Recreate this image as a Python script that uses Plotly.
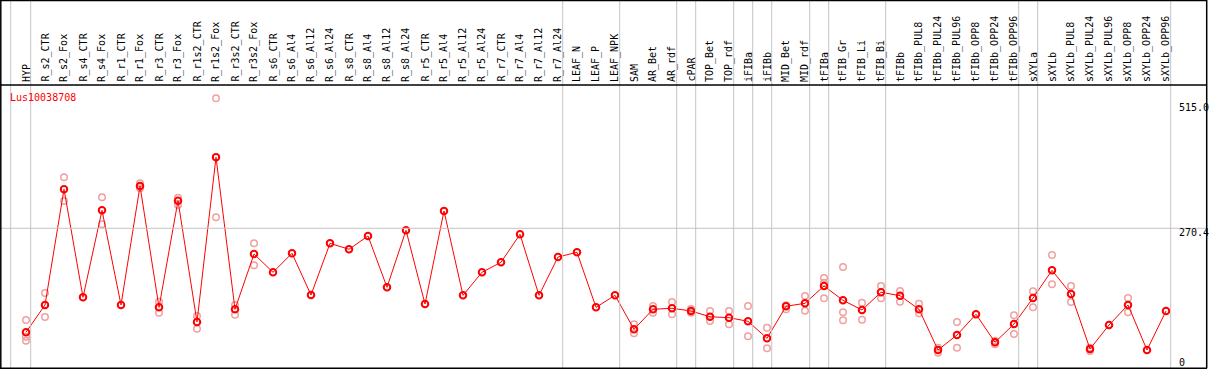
import plotly.graph_objects as go

categories = ["HYP", "R_s2_CTR", "R_s2_Fox", "R_s4_CTR", "R_s4_Fox", "R_r1_CTR", "R_r1_Fox",
              "R_r3_CTR", "R_r3_Fox", "R_r1s2_CTR", "R_r1s2_Fox", "R_r3s2_CTR", "R_r3s2_Fox",
              "R_s6_CTR", "R_s6_Al4", "R_s6_Al12", "R_s6_Al24", "R_s8_CTR", "R_s8_Al4", "R_s8_Al12",
              "R_s8_Al24", "R_r5_CTR", "R_r5_Al4", "R_r5_Al12", "R_r5_Al24", "R_r7_CTR", "R_r7_Al4",
              "R_r7_Al12", "R_r7_Al24", "LEAF_N", "LEAF_P", "LEAF_NPK", "SAM", "AR_Bet", "AR_rdf",
              "cPAR", "TOP_Bet", "TOP_rdf", "iFIBa", "iFIBb", "MID_Bet", "MID_rdf", "tFIBa",
              "tFIB_Gr", "tFIB_Li", "tFIB_Bi", "tFIBb", "tFIBb_PUL8", "tFIBb_PUL24", "tFIBb_PUL96",
              "tFIBb_OPP8", "tFIBb_OPP24", "tFIBb_OPP96", "sXYLa", "sXYLb", "sXYLb_PUL8",
              "sXYLb_PUL24", "sXYLb_PUL96", "sXYLb_OPP8", "sXYLb_OPP24", "sXYLb_OPP96"]

mean_values = [74.7, 126.1, 343.8, 140.5, 304.2, 126.1, 350.0, 121.7, 322.3, 94.1, 404.0,
               118.0, 222.0, 187.6, 223.3, 144.9, 242.1, 230.9, 255.9, 159.4, 266.6, 127.9,
               302.9, 144.3, 187.6, 206.4, 259.1, 144.3, 216.4, 225.2, 121.7, 144.3, 80.3,
               118.0, 119.9, 114.8, 104.0, 102.2, 95.4, 63.4, 123.6, 129.3, 161.8, 134.9,
               116.7, 150.0, 143.6, 118.0, 41.4, 69.6, 108.6, 55.9, 90.3, 139.2, 191.3,
               146.8, 43.3, 88.4, 126.1, 41.4, 114.8]

N = None
rep_a = [97.8, 148.6, 366.3, N, 328.7, N, 355.0, 132.3, 328.0, 105.4, 515.0, 126.1, 242.1,
         N, N, N, N, N, N, N, N, N, N, N, N, N, N, N, N, N, N, N, 89.7, 124.2, 131.7, 118.5,
         114.8, 114.8, 124.2, 83.4, 125.5, 143.0, 176.9, 197.6, 130.4, 161.8, 152.4, 128.5,
         45.7, 94.1, N, 58.9, 106.7, 151.8, 220.1, 161.8, 45.7, N, 139.2, N, N]
rep_b = [66.4, 103.5, 321.7, N, 277.9, N, 345.6, 111.6, 314.2, 81.5, 291.1, 107.8, 200.8,
         N, N, N, N, N, N, N, N, N, N, N, N, N, N, N, N, N, N, N, 72.8, 111.6, 108.6, 111.6,
         96.0, 89.7, 67.2, 44.6, 118.0, 115.3, 168.0, 112.3, 98.4, 138.7, 132.3, 110.4,
         36.3, 45.7, N, 52.1, 71.5, 121.7, 165.0, 131.7, 39.5, N, 112.3, N, N]
rep_c = [58.9, N, N, N, N, N, N, N, N, N, N, N, N,
         N, N, N, N, N, N, N, N, N, N, N, N, N, N, N, N, N, N, N, N, N, N, N,
         N, N, N, N, N, N, 138.7, 97.3, N, N, N, N,
         N, N, N, N, N, N, N, N, N, N, N, N, N]

group_ends = [0, 28, 31, 34, 35, 37, 38, 39, 41, 42, 45, 52, 53, 60]
axis_labels = ["515.0", "270.4", "0"]
axis_values = [515.0, 270.4, 0.0]
gene_name = "Lus10038708"

W, H = 1209, 370
X0, DX = 26.0, 19.0           # pixel of first category, pixel step
Y0PX, SLOPE = 372.0, 0.53148  # pixel of value 0, pixels per unit

xr0 = -X0 / DX
xr1 = xr0 + W / DX
yr1 = Y0PX / SLOPE
yr0 = yr1 - H / SLOPE

def py(px):
    return 1 - px / H

def px_x(px):
    return px / W

FONT = "DejaVu Sans Mono"
xs = list(range(len(categories)))

fig = go.Figure()
rep_color = "rgb(240,160,160)"
for rep in (rep_a, rep_b, rep_c):
    fig.add_trace(go.Scatter(
        x=xs, y=rep, mode="markers",
        marker=dict(symbol="circle-open", size=6.5, color=rep_color,
                    line=dict(color=rep_color, width=1.5)),
        showlegend=False, hoverinfo="skip"))

fig.add_trace(go.Scatter(
    x=xs, y=mean_values, mode="lines+markers",
    line=dict(color="#ff0000", width=1),
    marker=dict(symbol="circle-open", size=6.5, color="#ff0000",
                line=dict(color="#ff0000", width=2)),
    showlegend=False))

shapes = []
gray = "#c4c4c4"
shapes.append(dict(type="line", xref="paper", yref="paper",
                   x0=px_x(10.7), x1=px_x(10.7), y0=py(368), y1=1,
                   line=dict(color=gray, width=1)))
for g in group_ends:
    xv = g + 4.7 / DX
    shapes.append(dict(type="line", xref="x", yref="paper", x0=xv, x1=xv,
                       y0=py(368), y1=1, line=dict(color=gray, width=1)))
shapes.append(dict(type="line", xref="paper", yref="y", x0=0, x1=px_x(1207),
                   y0=axis_values[1], y1=axis_values[1], line=dict(color=gray, width=1)))
blk = dict(color="black", width=1.5)
shapes.append(dict(type="line", xref="paper", yref="paper", x0=0, x1=px_x(1207),
                   y0=py(0.5), y1=py(0.5), line=blk))
shapes.append(dict(type="line", xref="paper", yref="paper", x0=0, x1=px_x(1207),
                   y0=py(368.3), y1=py(368.3), line=blk))
shapes.append(dict(type="line", xref="paper", yref="paper", x0=0, x1=px_x(1207),
                   y0=py(85), y1=py(85), line=blk))
shapes.append(dict(type="line", xref="paper", yref="paper", x0=px_x(0.8), x1=px_x(0.8),
                   y0=py(368.3), y1=1, line=blk))
shapes.append(dict(type="line", xref="paper", yref="paper", x0=px_x(1206.7), x1=px_x(1206.7),
                   y0=py(368.3), y1=1, line=blk))

annotations = []
for i, c in enumerate(categories):
    annotations.append(dict(x=i, y=py(83), xref="x", yref="paper", text=c, textangle=-90,
                            showarrow=False, xanchor="center", yanchor="bottom", borderpad=0,
                            font=dict(family=FONT, size=10, color="black")))
annotations.append(dict(x=px_x(9), y=py(97.5), xref="paper", yref="paper", text=gene_name,
                        showarrow=False, xanchor="left", yanchor="middle", borderpad=0,
                        font=dict(family=FONT, size=10, color="#ff0000")))
for lab, ypx in zip(axis_labels, [107.3, 232.3, 362.3]):
    annotations.append(dict(x=px_x(1177.5), y=py(ypx), xref="paper", yref="paper", text=lab,
                            showarrow=False, xanchor="left", yanchor="middle", borderpad=0,
                            font=dict(family=FONT, size=10, color="black")))

fig.update_layout(
    width=W, height=H, margin=dict(l=0, r=0, t=0, b=0),
    paper_bgcolor="white", plot_bgcolor="white",
    xaxis=dict(range=[xr0, xr1], visible=False, showgrid=False, zeroline=False),
    yaxis=dict(range=[yr0, yr1], visible=False, showgrid=False, zeroline=False),
    shapes=shapes, annotations=annotations, showlegend=False,
)

fig.write_html("out.html", config={"displayModeBar": False},
               post_script="document.body.style.margin='0';document.body.style.overflow='hidden';")
